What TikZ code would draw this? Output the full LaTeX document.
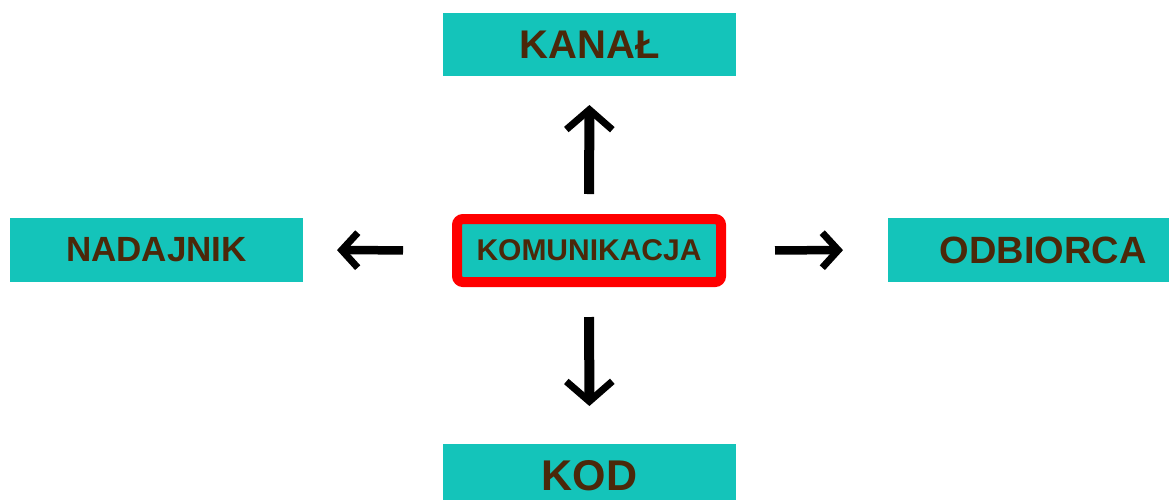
\documentclass[tikz,border=0pt]{standalone}
\usepackage{fontspec}
\setmainfont{Liberation Sans}
\usetikzlibrary{arrows.meta}
\definecolor{teal}{RGB}{20,196,186}
\definecolor{brn}{RGB}{75,40,10}
\definecolor{rd}{RGB}{255,0,0}
\tikzset{
  box/.style={rectangle, fill=teal, inner sep=0pt, outer sep=0pt,
    text=brn, font=\bfseries, minimum width=293pt, minimum height=63pt},
  mainbox/.style={rectangle, fill=teal, draw=rd, line width=10pt, rounded corners=6pt,
    inner sep=0pt, outer sep=0pt, text=brn, minimum width=264pt, minimum height=63pt,
    font=\bfseries\fontsize{30}{32}\selectfont},
  varr/.style={line width=10pt, -{Straight Barb[length=20pt,width=46pt,line width'=7pt]}},
  harr/.style={line width=8.5pt, -{Straight Barb[length=16pt,width=35pt,line width'=7pt]}}
}
\begin{document}
\begin{tikzpicture}[x=1pt,y=-1pt]
\clip (0,0) rectangle (1169,499);
\fill[white] (0,0) rectangle (1169,499);
\node[box, font=\bfseries\fontsize{40}{42}\selectfont] (kanal) at (589.5,44.5) {KANAŁ};
\node[box, minimum height=64pt, font=\bfseries\fontsize{35}{37}\selectfont] (nad) at (156.5,250) {NADAJNIK};
\node[box, minimum width=310pt, minimum height=64pt, font=\bfseries\fontsize{38}{40}\selectfont] (odb) at (1043,250) {ODBIORCA};
\node[box, font=\bfseries\fontsize{43}{45}\selectfont] (kod) at (589.5,475.5) {KOD};
\node[mainbox] (kom) at (589,250.5) {KOMUNIKACJA};
\draw[varr, shorten <=25pt, shorten >=29pt] (kom.north) -- (kanal.south);
\draw[varr, shorten <=35pt, shorten >=38pt] (kom.south) -- (kod.north);
\draw[harr, shorten <=54pt, shorten >=34pt] (kom.west) -- (nad.east);
\draw[harr, shorten <=54pt, shorten >=45pt] (kom.east) -- (odb.west);
\end{tikzpicture}
\end{document}
